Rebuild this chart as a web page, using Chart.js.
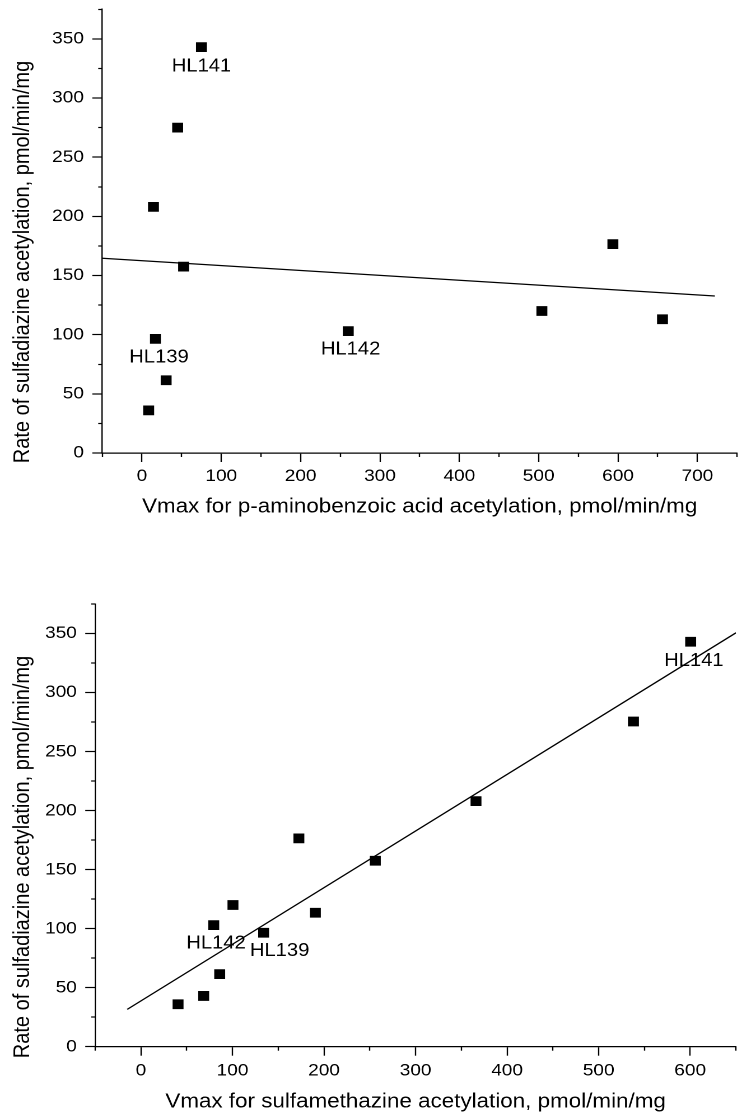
<!DOCTYPE html>
<html>
<head>
<meta charset="utf-8">
<script src="https://cdn.jsdelivr.net/npm/chart.js@4.4.1/dist/chart.umd.min.js"></script>
<style>
	html, body { margin: 0; padding: 0; background: #fff; width: 743px; height: 1118px; overflow: hidden; }
	/* the original figure is stretched a little horizontally */
	.panel { position: absolute; left: 0; transform-origin: 0 0; transform: scaleX(1.12); }
	#topPanel { top: 0; }
	#bottomPanel { top: 560px; }
</style>
</head>
<body>
<div class="panel" id="topPanel"><canvas id="pabaChart" width="665" height="560"></canvas></div>
<div class="panel" id="bottomPanel"><canvas id="smzChart" width="664" height="558"></canvas></div>
<script>
// top panel: sulfadiazine rate vs Vmax for p-aminobenzoic acid
const vmaxPaba = [75, 45, 14.5, 52.5, 17, 30.5, 8.5, 260, 504, 593.5, 656];
const rateTop = [343, 275, 208, 157.5, 96.5, 61.5, 36, 103, 120, 176.5, 113];
const fitTopX = [-50, 722];
const fitTopY = [164.6, 132.7];
const labelsTop = ["HL141", "HL139", "HL142"];
const labelsTopX = [75, 21.5, 263];
const labelsTopY = [326.6, 80.6, 87.5];

// bottom panel: sulfadiazine rate vs Vmax for sulfamethazine
const vmaxSmz = [40.5, 68.5, 86, 79.5, 100.5, 134, 172.5, 190.5, 256, 366, 538, 600.5];
const rateBottom = [36, 43, 61.5, 103, 120, 96.5, 176.5, 113.5, 157.5, 208, 275.5, 343];
const fitBottomX = [-15, 650];
const fitBottomY = [31.6, 350.6];
const labelsBottom = ["HL142", "HL139", "HL141"];
const labelsBottomX = [82, 151.5, 604];
const labelsBottomY = [87.4, 81.2, 326.7];

// tick positions
const topXTicks = [0, 100, 200, 300, 400, 500, 600, 700];
const topXMinor = [-50, 50, 150, 250, 350, 450, 550, 650, 750];
const bottomXTicks = [0, 100, 200, 300, 400, 500, 600];
const bottomXMinor = [-50, 50, 150, 250, 350, 450, 550, 650];
const yTicks = [0, 50, 100, 150, 200, 250, 300, 350];
const yMinor = [25, 75, 125, 175, 225, 275, 325, 375];

const yTitle = "Rate of sulfadiazine acetylation, pmol/min/mg";
const xTitleTop = "Vmax for p-aminobenzoic acid acetylation, pmol/min/mg";
const xTitleBottom = "Vmax for sulfamethazine acetylation, pmol/min/mg";

Chart.defaults.font.family = '"Liberation Sans", Arial, sans-serif';
Chart.defaults.color = "#000";

function toPoints(xs, ys) {
	return xs.map((x, i) => ({ x: x, y: ys[i] }));
}

// draws the sample names next to their points
function makeLabelPlugin(names, xs, ys) {
	return {
		id: "sampleLabels",
		afterDatasetsDraw(chart) {
			const { ctx, scales } = chart;
			ctx.save();
			ctx.font = '18px "Liberation Sans", Arial, sans-serif';
			ctx.fillStyle = "#000";
			ctx.textAlign = "center";
			ctx.textBaseline = "middle";
			names.forEach((name, i) => {
				ctx.fillText(name, scales.x.getPixelForValue(xs[i]), scales.y.getPixelForValue(ys[i]));
			});
			ctx.restore();
		},
	};
}

function buildChart(canvasId, cfg) {
	const tickGrid = (len) => ({
		drawOnChartArea: false,
		tickLength: len,
		tickColor: "#000",
		tickWidth: 1.2,
		color: "#000",
	});
	return new Chart(document.getElementById(canvasId), {
		type: "scatter",
		data: {
			datasets: [
				{
					data: toPoints(cfg.xs, cfg.ys),
					pointStyle: "rect",
					pointRadius: 6.9,
					pointHoverRadius: 6.9,
					backgroundColor: "#000",
					borderWidth: 0,
				},
				{
					data: toPoints(cfg.fitX, cfg.fitY),
					showLine: true,
					borderColor: "#000",
					borderWidth: 1.3,
					pointRadius: 0,
					fill: false,
				},
			],
		},
		options: {
			responsive: false,
			animation: false,
			devicePixelRatio: 2,
			layout: { padding: cfg.padding },
			plugins: {
				legend: { display: false },
				tooltip: { enabled: false },
				title: {
					display: true,
					position: "left",
					text: yTitle,
					color: "#000",
					font: { size: 20, weight: "normal", lineHeight: 1 },
					padding: { top: 10.5, bottom: 0 },
				},
			},
			scales: {
				x: {
					type: "linear",
					position: "bottom",
					min: cfg.xMin,
					max: cfg.xMax,
					weight: 1,
					afterBuildTicks: (axis) => { axis.ticks = cfg.xTicks.map((v) => ({ value: v })); },
					afterFit: (axis) => { axis.height = cfg.xAxisHeight; axis.paddingLeft = 0; axis.paddingRight = 0; },
					grid: tickGrid(9),
					border: { display: true, color: "#000", width: 1.2 },
					ticks: { padding: cfg.xTickPad, font: { size: 17 }, maxRotation: 0, autoSkip: false },
					title: {
						display: true,
						text: cfg.xTitle,
						font: { size: 20, lineHeight: cfg.xTitleLine },
						padding: 0,
					},
				},
				xMinor: {
					type: "linear",
					position: "bottom",
					min: cfg.xMin,
					max: cfg.xMax,
					weight: 0,
					afterBuildTicks: (axis) => { axis.ticks = cfg.xMinor.map((v) => ({ value: v })); },
					afterFit: (axis) => { axis.height = 0; },
					grid: tickGrid(4),
					border: { display: false },
					ticks: { display: false },
				},
				y: {
					type: "linear",
					position: "left",
					min: 0,
					max: 375,
					weight: 1,
					afterBuildTicks: (axis) => { axis.ticks = yTicks.map((v) => ({ value: v })); },
					afterFit: (axis) => { axis.width = cfg.yAxisWidth; axis.paddingTop = 0; axis.paddingBottom = 0; },
					grid: tickGrid(8.9),
					border: { display: true, color: "#000", width: 1.2 },
					ticks: { padding: 7.5, font: { size: 17 }, autoSkip: false },
				},
				yMinor: {
					type: "linear",
					position: "left",
					min: 0,
					max: 375,
					weight: 0,
					afterBuildTicks: (axis) => { axis.ticks = yMinor.map((v) => ({ value: v })); },
					afterFit: (axis) => { axis.width = 0; },
					grid: tickGrid(3.6),
					border: { display: false },
					ticks: { display: false },
				},
			},
		},
		plugins: [makeLabelPlugin(cfg.names, cfg.labelX, cfg.labelY)],
	});
}

buildChart("pabaChart", {
	xs: vmaxPaba,
	ys: rateTop,
	fitX: fitTopX,
	fitY: fitTopY,
	names: labelsTop,
	labelX: labelsTopX,
	labelY: labelsTopY,
	xMin: -50,
	xMax: 750,
	xTicks: topXTicks,
	xMinor: topXMinor,
	xTitle: xTitleTop,
	xTitleLine: 0.77,
	xTickPad: 4,
	xAxisHeight: 61.7,
	yAxisWidth: 60.8,
	padding: { top: 9.3, bottom: 45.3, left: 0, right: 0.6 },
});

buildChart("smzChart", {
	xs: vmaxSmz,
	ys: rateBottom,
	fitX: fitBottomX,
	fitY: fitBottomY,
	names: labelsBottom,
	labelX: labelsBottomX,
	labelY: labelsBottomY,
	xMin: -50,
	xMax: 650,
	xTicks: bottomXTicks,
	xMinor: bottomXMinor,
	xTitle: xTitleBottom,
	xTitleLine: 0.8,
	xTickPad: 5,
	xAxisHeight: 63.3,
	yAxisWidth: 54.5,
	padding: { top: 44, bottom: 8, left: 0, right: 6.1 },
});
</script>
</body>
</html>
